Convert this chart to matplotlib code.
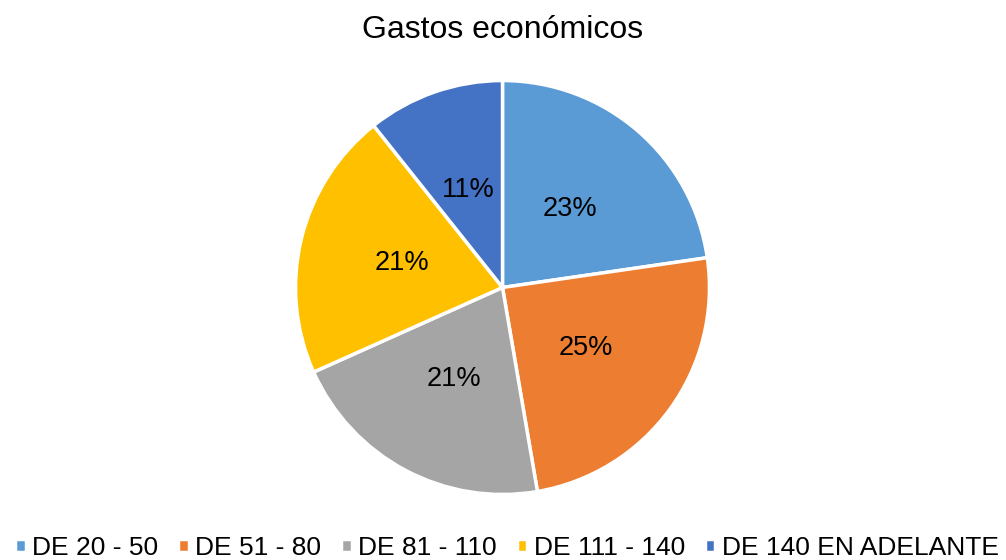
import matplotlib.pyplot as plt

# values (percent of respondents)
categorias = ["DE 20 - 50", "DE 51 - 80", "DE 81 - 110", "DE 111 - 140", "DE 140 EN ADELANTE"]
valores = [22.7, 24.6, 21.0, 21.0, 10.7]
colores = ["#5B9BD5", "#ED7D31", "#A5A5A5", "#FFC000", "#4472C4"]

plt.rcParams["font.family"] = ["Liberation Sans", "DejaVu Sans"]

W, H = 1006, 560
fig = plt.figure(figsize=(W / 100, H / 100), dpi=100)

cx, cy, r = 502.5, 287.5, 208
ax = fig.add_axes([(cx - r) / W, (H - cy - r) / H, 2 * r / W, 2 * r / H])

wedges, texts, autotexts = ax.pie(
    valores,
    colors=colores,
    startangle=90,
    counterclock=False,
    autopct="%1.0f%%",
    pctdistance=0.5,
    wedgeprops=dict(edgecolor="white", linewidth=2.5),
    textprops=dict(fontsize=19.5, color="black"),
)
ax.set_xlim(-1.005, 1.005)
ax.set_ylim(-1.005, 1.005)
ax.set_aspect("equal")
ax.axis("off")

fig.text(0.5, (H - 30) / H, "Gastos económicos", ha="center", va="center", fontsize=23)

fig.legend(
    wedges, categorias,
    loc="center left", bbox_to_anchor=(15 / W, 12 / H),
    ncol=5, frameon=False, fontsize=19,
    handlelength=0.4, handleheight=0.4, handletextpad=0.25,
    columnspacing=0.75, borderpad=0, borderaxespad=0,
)

fig.savefig("out.png", dpi=100)
